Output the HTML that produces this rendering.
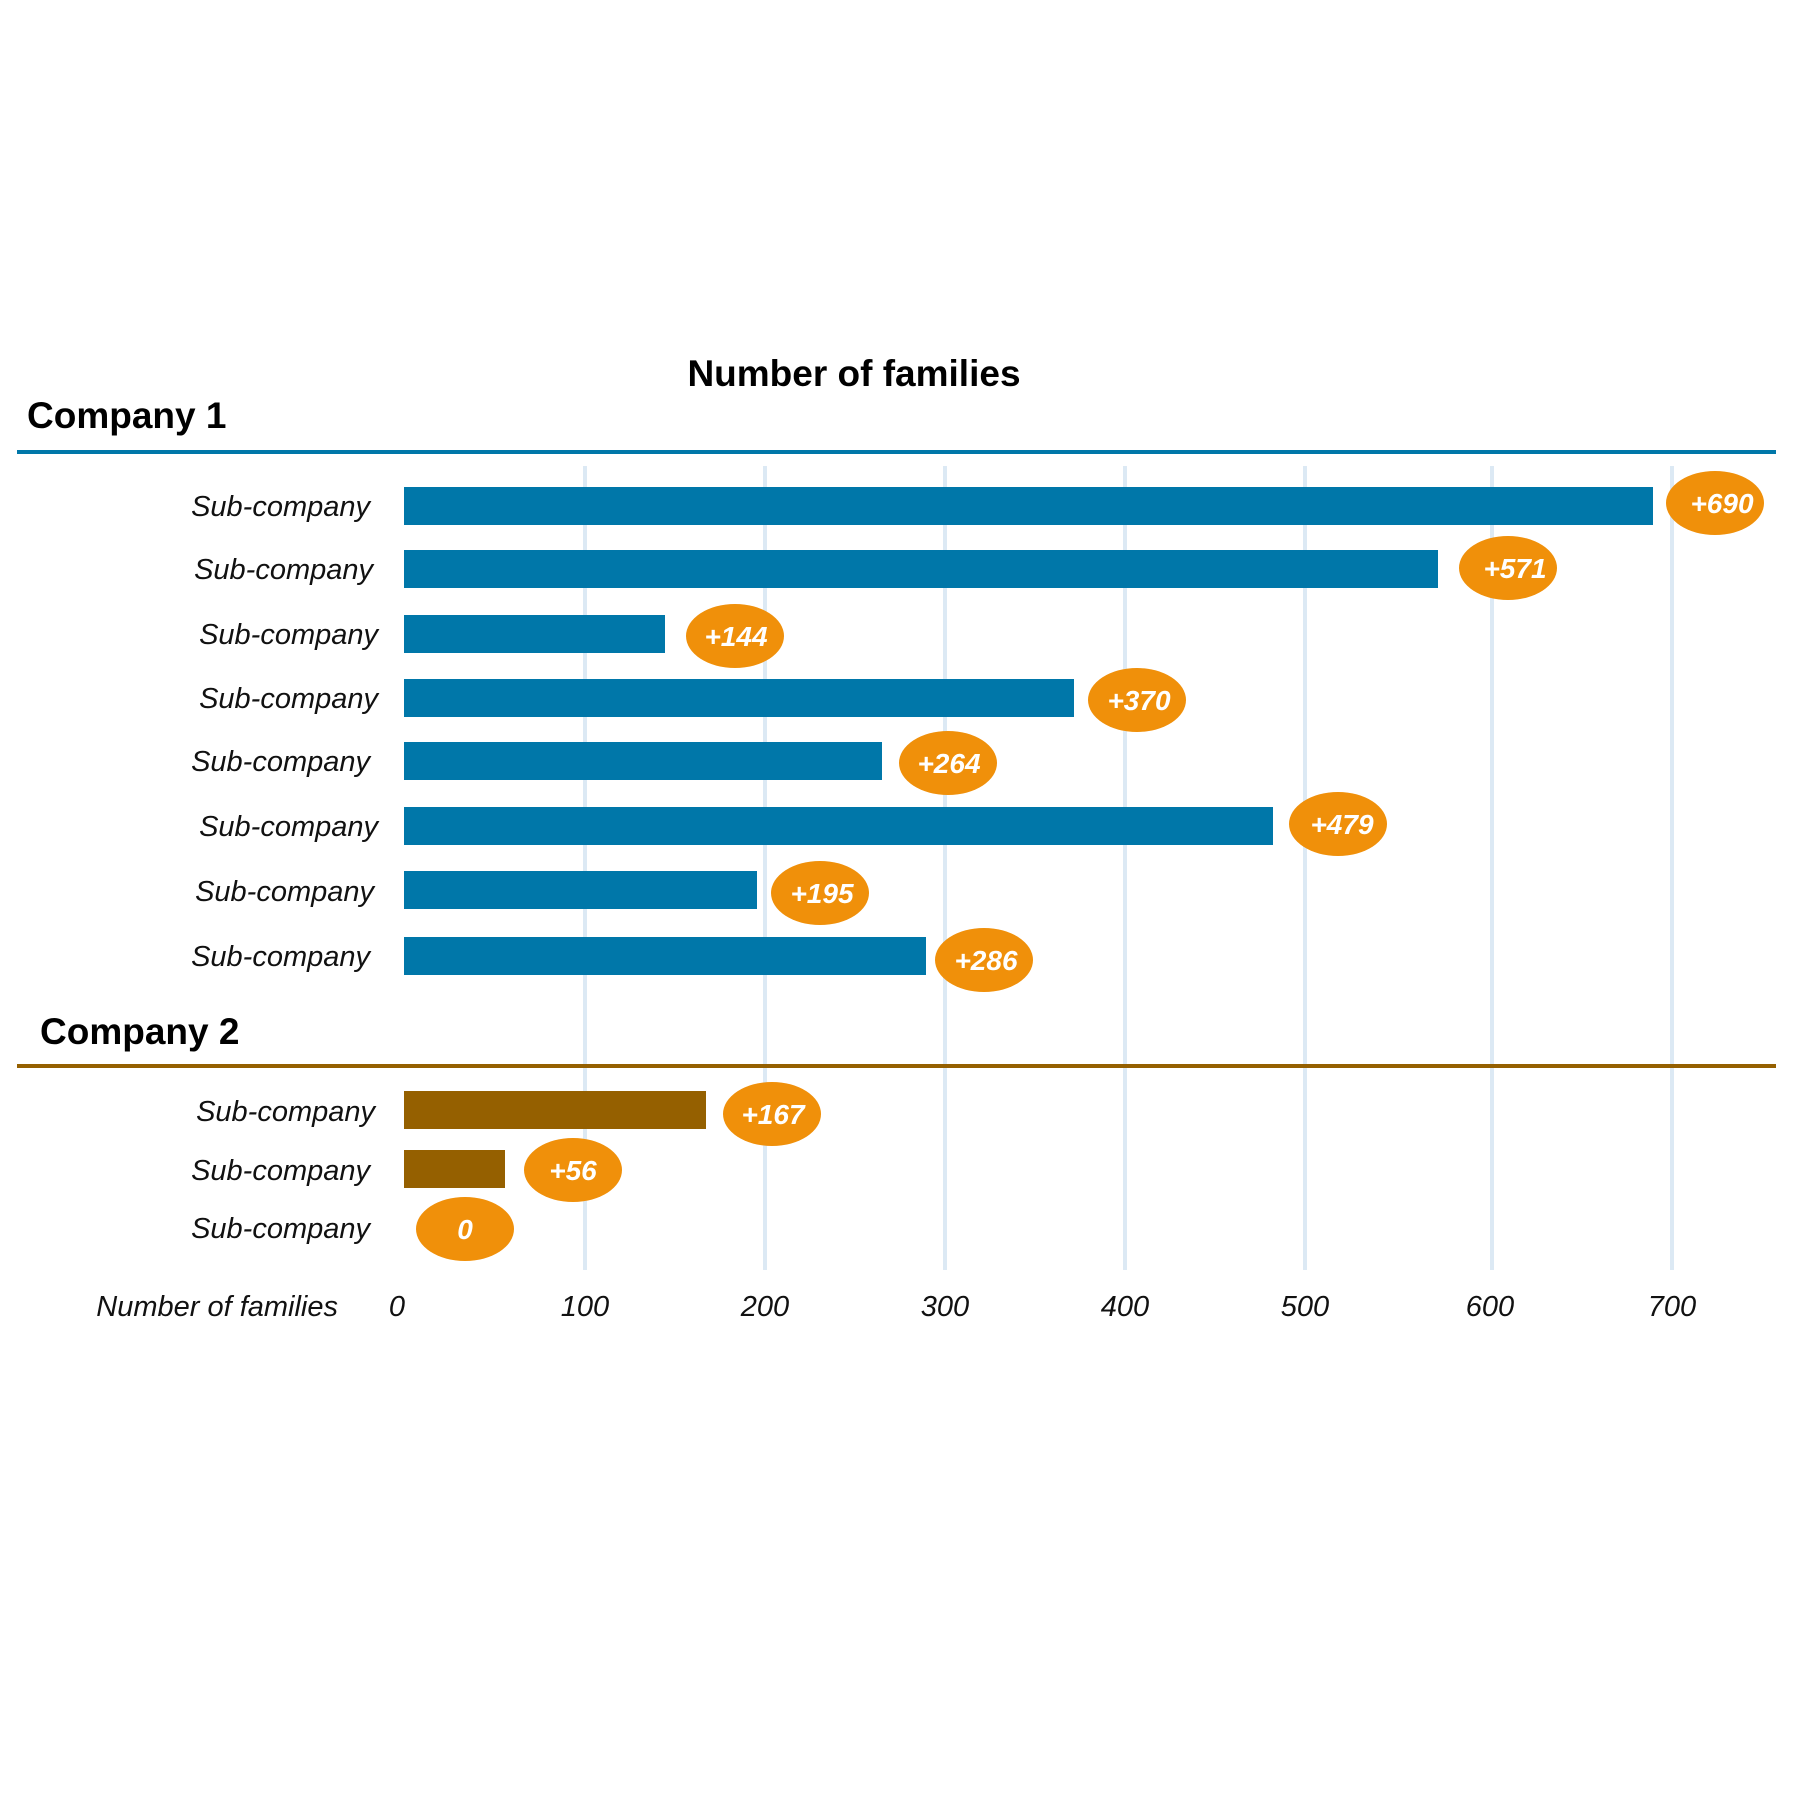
<!DOCTYPE html>
<html><head><meta charset="utf-8"><style>
html,body{margin:0;padding:0;background:#fff;}
svg{display:block;}
text{font-family:"Liberation Sans",sans-serif;}
.lab{font-style:italic;font-size:29px;fill:#111;text-anchor:end;}
.tick{font-style:italic;font-size:29px;fill:#111;text-anchor:middle;}
.val{font-style:italic;font-weight:bold;font-size:28px;fill:#fff;text-anchor:middle;}
.hd{font-weight:bold;font-size:37px;fill:#000;}
</style></head><body>
<svg width="1800" height="1796" viewBox="0 0 1800 1796" xmlns="http://www.w3.org/2000/svg">
<rect width="1800" height="1796" fill="#fff"/>
<g stroke="#dce9f4" stroke-width="4">
<line x1="585" y1="466" x2="585" y2="1270"/>
<line x1="765" y1="466" x2="765" y2="1270"/>
<line x1="945" y1="466" x2="945" y2="1270"/>
<line x1="1125" y1="466" x2="1125" y2="1270"/>
<line x1="1305" y1="466" x2="1305" y2="1270"/>
<line x1="1492" y1="466" x2="1492" y2="1270"/>
<line x1="1672" y1="466" x2="1672" y2="1270"/>
</g>
<text x="854" y="386" class="hd" text-anchor="middle">Number of families</text>
<text x="27" y="428" class="hd">Company 1</text>
<line x1="17" y1="452" x2="1776" y2="452" stroke="#0077a9" stroke-width="4"/>
<text x="40" y="1044" class="hd">Company 2</text>
<line x1="17" y1="1066" x2="1776" y2="1066" stroke="#956000" stroke-width="4"/>

<g fill="#0077a9">
<rect x="404" y="487" width="1249" height="38"/>
<rect x="404" y="550" width="1034" height="38"/>
<rect x="404" y="615" width="261" height="38"/>
<rect x="404" y="679" width="670" height="38"/>
<rect x="404" y="742" width="478" height="38"/>
<rect x="404" y="807" width="869" height="38"/>
<rect x="404" y="871" width="353" height="38"/>
<rect x="404" y="937" width="522" height="38"/>
</g>
<g fill="#956000">
<rect x="404" y="1091" width="302" height="38"/>
<rect x="404" y="1150" width="101" height="38"/>
</g>

<g class="lab">
<text x="370" y="516">Sub-company</text>
<text x="373" y="579">Sub-company</text>
<text x="378" y="644">Sub-company</text>
<text x="378" y="708">Sub-company</text>
<text x="370" y="771">Sub-company</text>
<text x="378" y="836">Sub-company</text>
<text x="374" y="901">Sub-company</text>
<text x="370" y="966">Sub-company</text>
<text x="375" y="1121">Sub-company</text>
<text x="370" y="1180">Sub-company</text>
<text x="370" y="1238">Sub-company</text>
</g>

<g fill="#f0900a">
<ellipse cx="1715" cy="503" rx="49" ry="32"/>
<ellipse cx="1508" cy="568" rx="49" ry="32"/>
<ellipse cx="735" cy="636" rx="49" ry="32"/>
<ellipse cx="1137" cy="700" rx="49" ry="32"/>
<ellipse cx="948" cy="763" rx="49" ry="32"/>
<ellipse cx="1338" cy="824" rx="49" ry="32"/>
<ellipse cx="820" cy="893" rx="49" ry="32"/>
<ellipse cx="984" cy="960" rx="49" ry="32"/>
<ellipse cx="772" cy="1114" rx="49" ry="32"/>
<ellipse cx="573" cy="1170" rx="49" ry="32"/>
<ellipse cx="465" cy="1229" rx="49" ry="32"/>
</g>
<g class="val">
<text x="1722" y="513">+690</text>
<text x="1515" y="578">+571</text>
<text x="736" y="646">+144</text>
<text x="1139" y="710">+370</text>
<text x="949" y="773">+264</text>
<text x="1342" y="834">+479</text>
<text x="822" y="903">+195</text>
<text x="986" y="970">+286</text>
<text x="773" y="1124">+167</text>
<text x="573" y="1180">+56</text>
<text x="465" y="1239">0</text>
</g>

<text x="338" y="1316" class="lab">Number of families</text>
<g class="tick">
<text x="397" y="1316">0</text>
<text x="585" y="1316">100</text>
<text x="765" y="1316">200</text>
<text x="945" y="1316">300</text>
<text x="1125" y="1316">400</text>
<text x="1305" y="1316">500</text>
<text x="1490" y="1316">600</text>
<text x="1672" y="1316">700</text>
</g>
</svg>
</body></html>
